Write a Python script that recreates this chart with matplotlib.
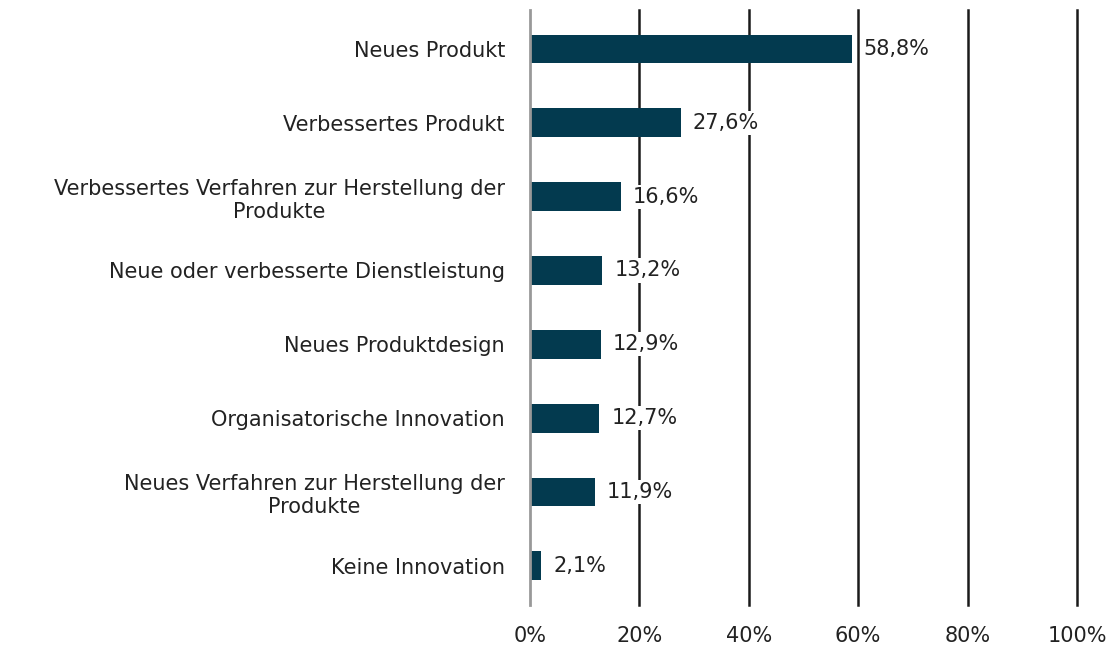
import matplotlib.pyplot as plt
import numpy as np

categories = ['Neues Produkt',
              'Verbessertes Produkt',
              'Verbessertes Verfahren zur Herstellung der\nProdukte',
              'Neue oder verbesserte Dienstleistung',
              'Neues Produktdesign',
              'Organisatorische Innovation',
              'Neues Verfahren zur Herstellung der\nProdukte',
              'Keine Innovation']
values = [58.8, 27.6, 16.6, 13.2, 12.9, 12.7, 11.9, 2.1]
value_labels = ['58,8%', '27,6%', '16,6%', '13,2%', '12,9%', '12,7%', '11,9%', '2,1%']
ticks = [0, 20, 40, 60, 80, 100]
tick_labels = ['0%', '20%', '40%', '60%', '80%', '100%']

fig = plt.figure(figsize=(11.15, 6.54), dpi=100)
ax = fig.add_axes([0.4753, 0.075, 0.4906, 0.91])

y = np.arange(len(categories))
ax.barh(y, values, height=0.39, color='#033a4f', zorder=2)

for t in ticks[1:]:
    ax.axvline(t, color='#1a1a1a', lw=1.8, zorder=1, clip_on=False)

for yi, v, lab in zip(y, values, value_labels):
    ax.text(v + 2.2, yi, lab, va='center', ha='left', fontsize=15, color='#222222',
            bbox=dict(facecolor='white', edgecolor='none', pad=1.5), zorder=3)

ax.set_yticks(y)
ax.set_yticklabels(categories, fontsize=15, ha='right', multialignment='center',
                   color='#222222')
ax.tick_params(axis='y', length=0, pad=18)
ax.set_xticks(ticks)
ax.set_xticklabels(tick_labels, fontsize=15, color='#222222')
ax.tick_params(axis='x', length=0, pad=15)
ax.set_xlim(0, 100)
ax.set_ylim(7.53, -0.53)

for s in ['top', 'right', 'bottom']:
    ax.spines[s].set_visible(False)
ax.spines['left'].set_color('#999999')
ax.spines['left'].set_linewidth(2)

fig.savefig('out.png', dpi=100)
